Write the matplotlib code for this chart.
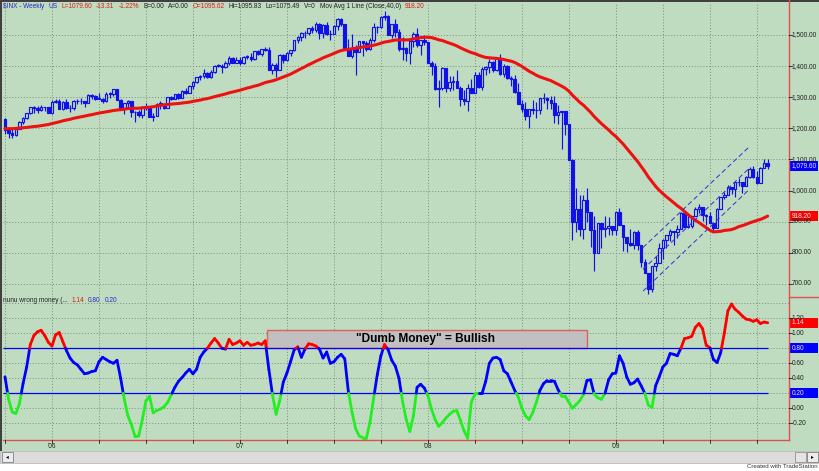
import numpy as np
import matplotlib
matplotlib.use("Agg")
import matplotlib.pyplot as plt
from matplotlib.collections import LineCollection
from matplotlib.patches import Rectangle
from matplotlib.lines import Line2D

plt.rcParams['font.family'] = ['Liberation Sans', 'DejaVu Sans']

# weekly closes Jan-Sep 2005, only needed to start the 40 week average
warmup_close = [1186.19, 1184.52, 1167.87, 1171.36, 1203.03, 1205.30, 1201.59, 1211.37,
                1222.12, 1200.08, 1189.65, 1171.42, 1172.92, 1181.20, 1142.62, 1152.12,
                1156.85, 1178.84, 1154.05, 1189.28, 1198.78, 1196.02, 1200.93, 1216.96,
                1191.57, 1194.44, 1211.86, 1227.92, 1233.68, 1234.18, 1226.42, 1230.39,
                1219.71, 1205.10, 1218.02, 1241.48, 1237.91, 1215.29, 1228.81]

# weekly bars, week ending 7 Oct 2005 to 23 Oct 2009
close = [
    # 2005
    1195.90, 1186.57, 1179.59, 1198.41, 1220.14, 1234.72, 1248.27, 1268.25, 1265.08, 1259.37,
    1267.32, 1268.66, 1248.29,
    # 2006
    1285.45, 1287.61, 1261.49, 1283.72, 1264.03, 1266.99, 1287.24, 1289.43, 1287.23, 1281.42,
    1307.25, 1302.95, 1294.83, 1295.50, 1289.12, 1311.28, 1310.61, 1325.76, 1291.24, 1267.03,
    1280.16, 1288.22, 1252.30, 1251.54, 1244.50, 1270.20, 1265.48, 1236.20, 1240.29, 1278.55,
    1279.36, 1266.74, 1302.30, 1295.09, 1311.01, 1298.92, 1319.66, 1314.78, 1335.85, 1349.59,
    1365.62, 1368.60, 1377.34, 1364.30, 1380.90, 1401.20, 1400.95, 1396.71, 1409.84, 1427.09,
    1410.76, 1418.30,
    # 2007
    1409.71, 1430.73, 1430.50, 1422.18, 1448.39, 1438.06, 1455.54, 1451.19, 1387.17, 1402.84,
    1386.95, 1436.11, 1420.86, 1443.76, 1452.85, 1484.35, 1494.07, 1505.62, 1505.85, 1522.75,
    1515.73, 1536.34, 1507.67, 1532.91, 1502.56, 1503.35, 1530.44, 1552.50, 1534.10, 1458.95,
    1433.06, 1453.64, 1445.94, 1479.37, 1473.99, 1453.55, 1484.25, 1525.75, 1526.75, 1557.59,
    1561.80, 1500.63, 1535.28, 1509.65, 1453.70, 1458.74, 1440.70, 1481.14, 1504.66, 1467.95,
    1484.46, 1478.49,
    # 2008
    1411.63, 1401.02, 1325.19, 1330.61, 1395.42, 1331.29, 1349.99, 1353.11, 1330.63, 1293.37,
    1288.14, 1329.51, 1315.22, 1370.40, 1332.83, 1390.33, 1397.84, 1413.90, 1388.28, 1425.35,
    1375.93, 1400.38, 1360.68, 1360.03, 1317.93, 1278.38, 1262.90, 1239.49, 1260.68, 1257.76,
    1260.31, 1296.32, 1298.20, 1292.20, 1282.83, 1242.31, 1251.70, 1255.08, 1213.27, 1099.23,
    899.22, 940.55, 876.77, 968.75, 930.99, 873.29, 800.03, 896.24, 876.07, 879.73,
    887.88, 872.80,
    # 2009
    931.80, 890.35, 850.12, 831.95, 825.88, 868.60, 826.84, 770.05, 735.09, 683.38,
    756.55, 768.54, 815.94, 842.50, 856.56, 869.60, 866.23, 877.52, 929.23, 882.88,
    887.00, 919.14, 940.09, 946.21, 921.23, 918.90, 896.42, 879.13, 940.38, 979.26,
    987.48, 1010.48, 1004.09, 1026.13, 1028.93, 1016.40, 1042.73, 1068.30, 1044.38, 1025.21,
    1071.49, 1087.68, 1079.60]

high = [
    1233.34, 1199.71, 1196.72, 1199.39, 1224.70, 1237.08, 1249.58, 1268.78, 1272.89, 1270.58,
    1275.80, 1269.76, 1270.00,
    1290.78, 1294.90, 1294.18, 1286.38, 1294.90, 1274.56, 1290.87, 1294.17, 1297.57, 1288.23,
    1310.88, 1310.88, 1306.24, 1314.07, 1296.60, 1318.16, 1316.04, 1326.70, 1326.70, 1294.81,
    1280.54, 1290.68, 1288.22, 1256.77, 1258.64, 1272.89, 1280.42, 1273.31, 1248.77, 1280.71,
    1287.68, 1282.37, 1302.30, 1305.44, 1312.03, 1314.67, 1324.65, 1328.53, 1340.28, 1353.79,
    1366.63, 1372.87, 1389.45, 1381.95, 1388.61, 1403.76, 1407.89, 1407.89, 1415.27, 1431.63,
    1429.42, 1427.72,
    1429.42, 1431.57, 1435.27, 1440.69, 1449.33, 1453.00, 1456.22, 1461.57, 1460.76, 1410.15,
    1409.55, 1437.65, 1437.77, 1444.88, 1453.11, 1484.35, 1498.02, 1510.34, 1513.80, 1522.75,
    1529.31, 1540.56, 1539.18, 1534.90, 1540.70, 1514.96, 1531.45, 1555.10, 1555.90, 1534.10,
    1488.30, 1503.89, 1466.29, 1479.52, 1481.47, 1481.49, 1489.58, 1538.74, 1529.08, 1561.91,
    1576.09, 1563.00, 1535.28, 1552.76, 1520.77, 1492.14, 1462.44, 1488.94, 1508.02, 1523.57,
    1484.46, 1498.85,
    1471.77, 1416.64, 1410.39, 1355.15, 1396.02, 1395.42, 1369.23, 1368.92, 1388.34, 1335.13,
    1321.68, 1341.51, 1359.68, 1380.91, 1380.36, 1395.90, 1399.84, 1422.72, 1415.00, 1426.37,
    1440.24, 1406.32, 1404.05, 1366.84, 1370.63, 1347.24, 1290.71, 1285.05, 1262.31, 1290.90,
    1284.91, 1297.85, 1313.15, 1300.68, 1303.04, 1303.04, 1274.29, 1255.09, 1255.37, 1213.27,
    1102.00, 1006.93, 985.44, 984.38, 1007.51, 916.88, 917.01, 896.25, 896.24, 918.85,
    914.66, 887.88,
    934.73, 943.85, 890.40, 850.12, 877.86, 870.75, 875.01, 826.84, 779.42, 735.09,
    758.29, 788.91, 832.98, 845.61, 856.56, 875.63, 871.79, 888.70, 930.17, 930.17,
    924.60, 920.02, 947.77, 956.23, 946.21, 925.38, 930.17, 898.72, 943.96, 979.79,
    996.68, 1018.00, 1013.14, 1027.59, 1039.47, 1028.93, 1048.18, 1074.77, 1080.15, 1062.00,
    1076.19, 1101.36, 1101.82]

low = [
    1181.92, 1168.20, 1170.55, 1174.78, 1198.41, 1215.05, 1228.86, 1246.59, 1249.48, 1250.91,
    1256.12, 1254.89, 1248.29,
    1245.74, 1282.08, 1260.92, 1259.42, 1261.02, 1253.61, 1260.40, 1277.56, 1278.66, 1268.42,
    1281.42, 1295.82, 1291.41, 1294.18, 1280.74, 1284.79, 1298.16, 1302.48, 1290.38, 1259.04,
    1245.34, 1262.70, 1235.18, 1219.29, 1237.17, 1234.43, 1260.13, 1235.92, 1224.54, 1240.29,
    1262.13, 1261.03, 1265.70, 1291.00, 1292.89, 1294.12, 1296.33, 1309.99, 1314.47, 1327.08,
    1344.22, 1356.87, 1363.06, 1360.98, 1360.52, 1376.60, 1397.06, 1377.83, 1394.55, 1403.30,
    1409.02, 1410.45,
    1403.97, 1405.99, 1424.21, 1416.96, 1420.60, 1435.00, 1433.91, 1447.02, 1386.74, 1373.98,
    1363.98, 1386.95, 1408.64, 1416.37, 1433.99, 1447.21, 1475.50, 1482.14, 1491.42, 1498.95,
    1505.18, 1510.81, 1487.41, 1490.72, 1500.10, 1484.18, 1503.35, 1516.40, 1530.00, 1458.95,
    1432.73, 1427.39, 1370.60, 1445.55, 1432.01, 1449.80, 1451.70, 1476.48, 1507.87, 1521.50,
    1546.72, 1500.63, 1489.64, 1492.65, 1450.00, 1419.46, 1415.64, 1406.10, 1460.12, 1460.71,
    1435.65, 1468.26,
    1411.63, 1370.10, 1322.53, 1270.05, 1322.41, 1316.75, 1321.57, 1324.78, 1330.63, 1272.66,
    1274.86, 1256.98, 1312.95, 1315.22, 1328.76, 1324.35, 1370.41, 1379.16, 1382.36, 1384.47,
    1373.07, 1364.01, 1359.63, 1335.47, 1314.52, 1278.38, 1252.01, 1225.35, 1200.44, 1245.44,
    1234.37, 1247.45, 1282.51, 1261.30, 1263.21, 1217.23, 1212.99, 1133.50, 1180.00, 1098.14,
    839.80, 865.83, 853.00, 845.27, 899.73, 818.69, 741.02, 800.03, 815.69, 851.35,
    857.72, 857.09,
    857.07, 888.31, 804.47, 804.30, 821.67, 812.87, 808.06, 754.25, 734.52, 666.79,
    672.88, 742.37, 768.54, 779.81, 814.53, 836.93, 826.83, 847.12, 875.56, 878.94,
    879.61, 881.46, 918.31, 927.47, 903.78, 888.86, 896.42, 869.32, 879.13, 940.38,
    972.79, 987.48, 990.22, 978.51, 1016.20, 991.97, 1016.40, 1039.50, 1041.17, 1020.62,
    1025.21, 1071.49, 1069.00]

# "nunu wrong money" (dumb money) reading, one value per weekly bar
dumb_money = [
    0.42, 0.12, -0.05, -0.07, 0.06, 0.33, 0.55, 0.85, 0.97, 1.02, 1.04, 0.97, 0.88,
    0.83, 0.98, 1.01, 0.89, 0.77, 0.67, 0.61, 0.58, 0.52, 0.46, 0.47, 0.49, 0.50,
    0.62, 0.68, 0.65, 0.62, 0.60, 0.64, 0.40, 0.12, -0.10, -0.22, -0.38, -0.37, -0.15,
    0.10, 0.16, -0.06, -0.03, -0.01, 0.02, 0.08, 0.18, 0.28, 0.36, 0.41, 0.47, 0.52,
    0.46, 0.52, 0.68, 0.75, 0.80, 0.87, 0.93, 0.87, 0.80, 0.79, 0.92, 0.85, 0.87,
    0.90, 0.84, 0.88, 0.84, 0.85, 0.87, 0.85, 0.90, 0.52, 0.18, -0.08, 0.10, 0.35,
    0.47, 0.62, 0.78, 0.82, 0.68, 0.79, 0.86, 0.85, 0.83, 0.79, 0.67, 0.75, 0.60,
    0.62, 0.68, 0.72, 0.66, 0.22, -0.05, -0.27, -0.37, -0.39, -0.39, -0.18, 0.14, 0.45,
    0.70, 0.85, 0.78, 0.64, 0.56, 0.40, 0.09, -0.15, -0.31, -0.10, 0.28, 0.32, 0.27,
    0.17, -0.01, -0.15, -0.24, -0.19, -0.13, -0.08, -0.04, -0.03, -0.16, -0.30, -0.40, 0.08,
    0.19, 0.20, 0.20, 0.36, 0.60, 0.67, 0.68, 0.65, 0.50, 0.46, 0.35, 0.24, 0.15,
    0.00, -0.10, -0.15, -0.06, 0.08, 0.24, 0.33, 0.37, 0.37, 0.36, 0.25, 0.16, 0.16,
    0.08, 0.00, 0.05, 0.10, 0.18, 0.37, 0.38, 0.19, 0.14, 0.12, 0.20, 0.38, 0.46,
    0.47, 0.70, 0.60, 0.42, 0.32, 0.34, 0.39, 0.30, 0.20, 0.04, 0.01, 0.30, 0.42,
    0.55, 0.60, 0.73, 0.72, 0.70, 0.80, 0.93, 0.94, 0.96, 1.08, 1.13, 1.06, 0.84,
    0.81, 0.65, 0.61, 0.74, 1.00, 1.30, 1.39, 1.32, 1.28, 1.23, 1.19, 1.18, 1.16,
    1.18, 1.13, 1.15, 1.14]

first_open = 1228.81          # close of the week before the first bar
year_labels = ["'06", "'07", "'08", "'09"]
year_bars = [13, 65, 117, 169]
quarter_bars = [0, 13, 26, 39, 52, 65, 78, 91, 104, 117, 130, 143, 156, 169, 182, 195, 208]
price_ticks = [700, 800, 900, 1000, 1100, 1200, 1300, 1400, 1500]
dm_ticks = [-0.2, 0.0, 0.4, 0.6, 1.0, 1.2]
dm_levels = [0.8, 0.2]

# regression channel drawn from the March 2009 low
chan_bars = [176.5, 206.0]
chan_upper = [817, 1142]
chan_mid = [747, 1073]
chan_lower = [677, 1005]

BG = '#c0dcc0'
BLUE = '#1010e8'
RED = '#ee1111'
GREEN = '#22ee22'
GRID = '#7c8c7c'
DARK = '#202020'

W, H = 820, 471
fig = plt.figure(figsize=(8.2, 4.71), dpi=100)
fig.patch.set_facecolor(BG)


def pbox(l, t, r, b):
    return [l / W, 1 - b / H, (r - l) / W, (b - t) / H]


ax = fig.add_axes(pbox(3, 3, 789, 297))
ax2 = fig.add_axes(pbox(3, 297, 789, 440), sharex=ax)
for a in (ax, ax2):
    a.set_facecolor(BG)
    a.set_xticks([])
    a.set_yticks([])
    for s in a.spines.values():
        s.set_visible(False)
ax.set_xlim(-0.55, 216.9)
ax.set_ylim(658.2, 1602.8)
ax2.set_ylim(-0.423, 1.484)

n = len(close)
x = np.arange(n)
c = np.array(close)
o = np.array([first_open] + close[:-1])
hi = np.maximum(np.array(high), np.maximum(o, c))
lo = np.minimum(np.array(low), np.minimum(o, c))

# grid
dots = (0, (1, 2))
ax.hlines(price_ticks, -0.55, 216.9, color=GRID, lw=0.7, linestyle=dots, zorder=1)
ax.vlines(quarter_bars, 658.2, 1602.8, color=GRID, lw=0.7, linestyle=dots, zorder=1)
ax2.hlines([-0.2, 0.0, 0.2, 0.4, 0.6, 0.8, 1.0, 1.2, 1.4], -0.55, 216.9, color=GRID, lw=0.7,
           linestyle=dots, zorder=1)
ax2.vlines(quarter_bars, -0.423, 1.484, color=GRID, lw=0.7, linestyle=dots, zorder=1)

# candles
up = c >= o
ax.vlines(x, lo, hi, color=BLUE, lw=0.85, zorder=2)
body = np.maximum(np.abs(c - o), 1.5)
ax.bar(x, body, bottom=np.minimum(o, c), width=0.7,
       color=[BG if u else BLUE for u in up], edgecolor=BLUE, lw=0.85, zorder=3)

# 40 week moving average
full = np.array(warmup_close + close)
ma = np.convolve(full, np.ones(40) / 40, mode='valid')[-n:]
ax.plot(x, ma, color=RED, lw=2.2, zorder=4, solid_capstyle='round')

for yy in (chan_upper, chan_mid, chan_lower):
    ax.plot(chan_bars, yy, color='#3030d0', lw=0.7, linestyle=(0, (5, 3)), zorder=5)

# dumb money line, coloured by zone
dm = np.array(dumb_money)
xd = np.arange(len(dm))


def zone(v):
    if v >= 0.8:
        return '#ff0000'
    if v >= 0.2:
        return '#0000ff'
    return GREEN


segs, cols = [], []
for i in range(len(dm) - 1):
    v0, v1 = dm[i], dm[i + 1]
    cuts = [0.0, 1.0]
    for lev in dm_levels:
        if (v0 - lev) * (v1 - lev) < 0:
            cuts.append((lev - v0) / (v1 - v0))
    cuts.sort()
    for a0, a1 in zip(cuts[:-1], cuts[1:]):
        segs.append([(xd[i] + a0, v0 + a0 * (v1 - v0)), (xd[i] + a1, v0 + a1 * (v1 - v0))])
        cols.append(zone(v0 + (a0 + a1) / 2 * (v1 - v0)))
ax2.add_collection(LineCollection(segs, colors=cols, linewidths=2.0, capstyle='round',
                                  zorder=5))
ax2.hlines(dm_levels, -0.55, len(dm) - 1, color='#0000ff', lw=0.9, zorder=4)

ax2.add_patch(Rectangle((72.4, 0.8), 88.7, 0.244, facecolor='#c0c0c0', edgecolor='#e06060',
                        lw=1.0, zorder=3))
ax2.text(116.3, 0.925, '"Dumb Money" = Bullish', ha='center', va='center', fontsize=8.6,
         fontweight='bold', color='black', zorder=6)


# frame, axis lines and labels in figure pixels
def fx(px):
    return px / W


def fy(py):
    return 1 - py / H


def line(x0, y0, x1, y1, color, lw=1.0):
    fig.add_artist(Line2D([fx(x0), fx(x1)], [fy(y0), fy(y1)], color=color, lw=lw))


def ypix(a, v):
    return H - a.transData.transform((0, v))[1]


line(789, 0, 789, 440, '#e05050', 1.0)
line(3, 440, 789, 440, '#e05050', 1.0)
line(789, 297, 820, 297, '#e05050', 1.0)
fig.add_artist(Rectangle((0, fy(2)), 1, 2 / H, transform=fig.transFigure,
                         facecolor='#404040', edgecolor='none'))
fig.add_artist(Rectangle((0, fy(451)), 2.5 / W, 449 / H, transform=fig.transFigure,
                         facecolor='#404040', edgecolor='none'))

for v in price_ticks:
    yp = ypix(ax, v)
    line(789, yp, 792, yp, DARK, 0.6)
    fig.text(fx(792), fy(yp), f'{v:,.2f}', fontsize=4.7, color=DARK, va='center', ha='left')
for v in dm_ticks:
    yp = ypix(ax2, v)
    line(789, yp, 792, yp, DARK, 0.6)
    fig.text(fx(792), fy(yp), f'{v:.2f}', fontsize=4.7, color=DARK, va='center', ha='left')


def tag(a, v, label, face):
    yp = ypix(a, v)
    fig.add_artist(Rectangle((fx(789.5), fy(yp + 5)), 29 / W, 10 / H, transform=fig.transFigure,
                             facecolor=face, edgecolor='none'))
    fig.text(fx(792), fy(yp), label, fontsize=4.7, color='#ffe8e8', va='center', ha='left')


tag(ax, close[-1], f'{close[-1]:,.2f}', '#0000ff')
tag(ax, ma[-1], f'{ma[-1]:,.2f}', '#ff0000')
tag(ax2, dm[-1], f'{dm[-1]:.2f}', '#ff0000')
tag(ax2, 0.8, '0.80', '#0000ff')
tag(ax2, 0.2, '0.20', '#0000ff')

for b in quarter_bars:
    xp = ax.transData.transform((b, 0))[0]
    line(xp, 440, xp, 443, DARK, 0.6)
for lab, b in zip(year_labels, year_bars):
    xp = ax.transData.transform((b, 0))[0]
    fig.text(fx(xp), fy(447), lab, fontsize=4.7, color=DARK, ha='center', va='center')

# scroll bar and footer
fig.add_artist(Rectangle((0, 0), 1, 20 / H, transform=fig.transFigure,
                         facecolor='white', edgecolor='none'))
fig.add_artist(Rectangle((0, fy(463)), 1, 12 / H, transform=fig.transFigure,
                         facecolor='#dcdcdc', edgecolor='#b0b0b0', lw=0.5))
for x0 in (2, 807):
    fig.add_artist(Rectangle((fx(x0), fy(462)), 11 / W, 10 / H, transform=fig.transFigure,
                             facecolor='#ececec', edgecolor='#808080', lw=0.6))
fig.add_artist(Rectangle((fx(795), fy(462)), 11 / W, 10 / H, transform=fig.transFigure,
                         facecolor='#e4e4e4', edgecolor='#909090', lw=0.6))
fig.text(fx(7.5), fy(457), '\u25c2', fontsize=4, color='black', ha='center', va='center')
fig.text(fx(812.5), fy(457), '\u25b8', fontsize=4, color='black', ha='center', va='center')
fig.text(fx(818), fy(467), 'Created with TradeStation', fontsize=4.4, color='#333333',
         ha='right', va='center')

# status lines
renderer = fig.canvas.get_renderer()


def text_run(x0, y0, parts, gap=4):
    for s, col in parts:
        t = fig.text(fx(x0), fy(y0), s, fontsize=4.7, color=col, ha='left', va='center')
        x0 += t.get_window_extent(renderer).width + gap


HB, HR = '#2828c8', '#e01818'
text_run(3, 7, [('$INX - Weekly', HB), ('US', HB), ('L=1079.60', HR), ('-13.31', HR),
                ('-1.22%', HR), ('B=0.00', DARK), ('A=0.00', DARK), ('O=1095.62', HR),
                ('Hi=1095.83', DARK), ('Lo=1075.49', DARK), ('V=0', DARK),
                ('Mov Avg 1 Line (Close,40,0)', DARK), ('918.20', HR)])
text_run(3, 301, [('nunu wrong money (...', DARK), ('1.14', HR), ('0.80', HB), ('0.20', HB)])

fig.savefig('out.png', dpi=100, facecolor=BG)
